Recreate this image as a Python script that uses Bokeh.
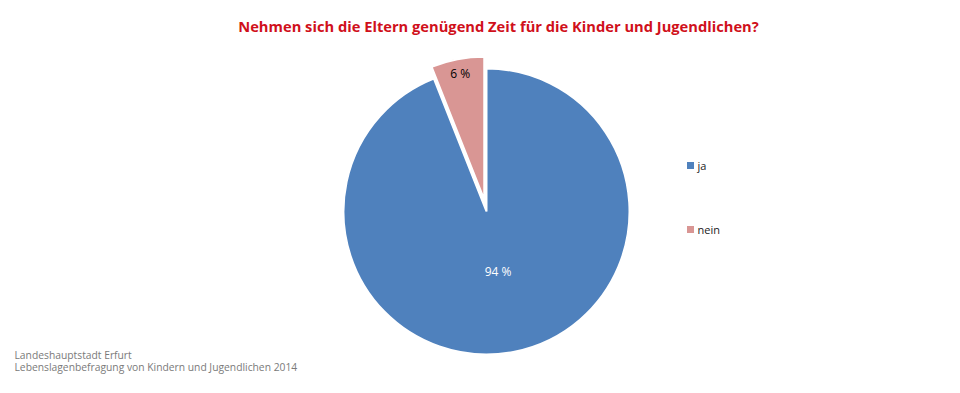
import math
from bokeh.plotting import figure
from bokeh.models import Range1d
from bokeh.core.properties import value
from bokeh.embed import file_html
from bokeh.resources import INLINE

title_text = "Nehmen sich die Eltern genügend Zeit für die Kinder und Jugendlichen?"
categories = ["ja", "nein"]
values = [94, 6]
colors = ["#4F81BD", "#D99694"]
label_colors = ["#FFFFFF", "#000000"]
label_texts = ["94 %", "6 %"]
explode = [0, 12]
label_r = [0.43, 0.9]
footer = ["Landeshauptstadt Erfurt", "Lebenslagenbefragung von Kindern und Jugendlichen 2014"]

W, H = 944, 377
p = figure(width=W, height=H, output_backend="svg", toolbar_location=None,
           x_range=Range1d(0, 944), y_range=Range1d(16, 393),
           min_border=0, outline_line_color=None)
p.axis.visible = False
p.grid.visible = False

cx, cy, R = 486, 393 - 211, 143
total = sum(values)
start = 90.0  # top, going clockwise
for cat, v, col, lc, lt, ex, lr in zip(categories, values, colors, label_colors, label_texts, explode, label_r):
    sweep = v / total * 360.0
    end = start - sweep
    mid = math.radians((start + end) / 2)
    ox = cx + ex * math.cos(mid)
    oy = cy + ex * math.sin(mid)
    p.wedge(x=[ox], y=[oy], radius=R, start_angle=[math.radians(end)], end_angle=[math.radians(start)],
            fill_color=col, line_color="white", line_width=2)
    p.text(x=[ox + lr * R * math.cos(mid)], y=[oy + lr * R * math.sin(mid)], text=[lt],
           text_align="center", text_baseline="middle", text_color=lc,
           text_font=value("Open Sans"), text_font_size="12px")
    start = end

# legend
leg_y = [393 - 165, 393 - 229]
for cat, col, ly in zip(categories, colors, leg_y):
    p.scatter(x=[690], y=[ly], marker="square", size=7, fill_color=col, line_color=None)
    p.text(x=[697], y=[ly], text=[cat], text_align="left", text_baseline="middle",
           text_color="#222222", text_font=value("Open Sans"), text_font_size="11px")

# title
p.text(x=[498], y=[393 - 25], text=[title_text], text_align="center", text_baseline="middle",
       text_color="#D0101B", text_font=value("Open Sans"), text_font_style="bold",
       text_font_size="14.7px")

# footer
for i, line in enumerate(footer):
    p.text(x=[14], y=[393 - 354 - 12 * i], text=[line], text_align="left", text_baseline="middle",
           text_color="#7A7A7A", text_font=value("Open Sans"), text_font_size="10.3px")

open("out.html", "w").write(file_html(p, INLINE))
